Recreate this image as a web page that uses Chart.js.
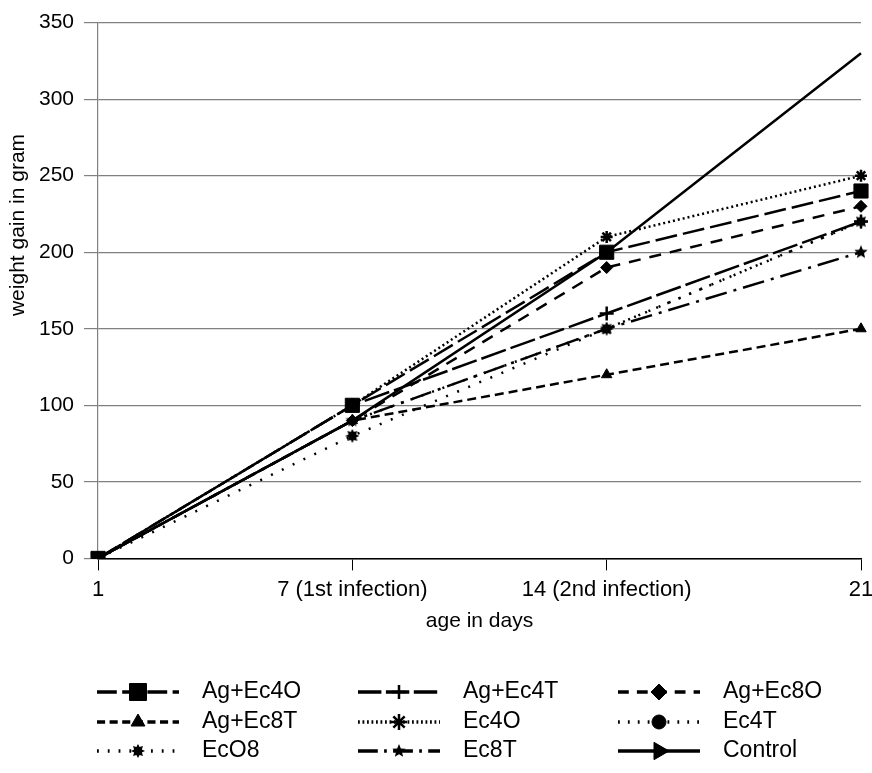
<!DOCTYPE html>
<html>
<head>
<meta charset="utf-8">
<script src="https://cdn.jsdelivr.net/npm/chart.js@4.4.1/dist/chart.umd.min.js"></script>
<style>
  body { margin: 0; background: #fff; }
  #wrap { width: 872px; height: 773px; position: relative; }
</style>
</head>
<body>
<div id="wrap"><canvas id="weightChart"></canvas></div>
<script>
// categories and series values
const days = ['1', '7 (1st infection)', '14 (2nd infection)', '21'];
const yTicks = [0, 50, 100, 150, 200, 250, 300, 350];

const agEc4O = [0, 100, 200, 240];
const agEc4T = [0, 100, 160, 220];
const agEc8O = [0, 90, 190, 230];
const agEc8T = [0, 90, 120, 150];
const ec4O = [0, 100, 210, 250];
const ec4T = [0, 90, 150, 220];
const ecO8 = [0, 80, 150, 220];
const ec8T = [0, 90, 150, 200];
const control = [0, 90, 200, 330];

const FONT = '"Liberation Sans", Arial, sans-serif';

// small canvases for the marker shapes Chart.js does not have
function makeMarker(kind, size) {
    const c = document.createElement('canvas');
    c.width = size; c.height = size;
    const g = c.getContext('2d');
    const cx = size / 2, cy = size / 2;
    g.fillStyle = '#000';
    g.beginPath();
    const spikes = kind === 'star5' ? 5 : 8;
    const outer = size / 2;
    const inner = kind === 'star5' ? outer * 0.45 : outer * 0.6;
    for (let i = 0; i < spikes * 2; i++) {
        const r = i % 2 === 0 ? outer : inner;
        const a = -Math.PI / 2 + i * Math.PI / spikes;
        const px = cx + r * Math.cos(a), py = cy + r * Math.sin(a);
        if (i === 0) g.moveTo(px, py); else g.lineTo(px, py);
    }
    g.closePath();
    g.fill();
    return c;
}
const star5 = makeMarker('star5', 14);
const burst = makeMarker('burst', 14);

// plotRadius 0 = the marker only shows in the legend (hidden in the plot, as in the picture)
const seriesDefs = [
    { label: 'Ag+Ec4O', data: agEc4O, dash: [22, 6], style: 'rect', radius: 12, plotRadius: 10 },
    { label: 'Ag+Ec4T', data: agEc4T, dash: [26, 5], style: 'cross', radius: 7, plotRadius: 7 },
    { label: 'Ag+Ec8O', data: agEc8O, dash: [12, 9], style: 'rectRot', radius: 8, plotRadius: 6 },
    { label: 'Ag+Ec8T', data: agEc8T, dash: [9, 5], style: 'triangle', radius: 8, plotRadius: 6 },
    { label: 'Ec4O', data: ec4O, dash: [2, 3], style: 'star', radius: 8, plotRadius: 6 },
    { label: 'Ec4T', data: ec4T, dash: [2, 9], style: 'circle', radius: 7, plotRadius: 0 },
    { label: 'EcO8', data: ecO8, dash: [2, 10], style: burst, radius: 7, plotRadius: 7 },
    { label: 'Ec8T', data: ec8T, dash: [22, 7, 3, 7], style: star5, radius: 7, plotRadius: 7 },
    { label: 'Control', data: control, dash: [], style: 'triangle', radius: 10, plotRadius: 0, rotation: 90 }
];

const datasets = seriesDefs.map(s => ({
    label: s.label,
    data: s.data,
    borderColor: '#000',
    backgroundColor: '#000',
    borderWidth: 2.5,
    borderDash: s.dash,
    pointStyle: s.style,
    pointRadius: s.plotRadius,
    pointRotation: s.rotation || 0,
    pointBorderWidth: s.style === 'cross' || s.style === 'star' ? 2.5 : 1,
    pointBackgroundColor: '#000',
    pointBorderColor: '#000',
    legendRadius: s.radius,
    tension: 0,
    fill: false
}));

// legend drawn as a 3 x 3 grid under the plot, plus the y title placed like the picture
const gridLegend = {
    id: 'gridLegend',
    afterDraw(chart) {
        const ctx = chart.ctx;
        const colX = [97, 358, 618];
        const rowY = [692, 722, 751];
        ctx.save();
        chart.data.datasets.forEach((ds, i) => {
            const x = colX[i % 3], y = rowY[Math.floor(i / 3)];
            ctx.strokeStyle = '#000';
            ctx.fillStyle = '#000';
            ctx.lineWidth = 3.5;
            ctx.setLineDash(ds.borderDash.length ? ds.borderDash.map(v => v * 0.9) : []);
            ctx.beginPath();
            ctx.moveTo(x, y);
            ctx.lineTo(x + 82, y);
            ctx.stroke();
            ctx.setLineDash([]);
            ctx.lineWidth = ds.pointBorderWidth;
            Chart.helpers.drawPoint(ctx, {
                pointStyle: ds.pointStyle,
                radius: ds.legendRadius,
                rotation: ds.pointRotation,
                borderWidth: ds.pointBorderWidth
            }, x + 41, y);
            ctx.font = '23px ' + FONT;
            ctx.textBaseline = 'middle';
            ctx.textAlign = 'left';
            ctx.fillText(ds.label, x + 105, y);
        });

        ctx.translate(18, 225);
        ctx.rotate(-Math.PI / 2);
        ctx.font = '21px ' + FONT;
        ctx.textAlign = 'center';
        ctx.textBaseline = 'middle';
        ctx.fillText('weight gain in gram', 0, 0);
        ctx.restore();
    }
};

const ctx = document.getElementById('weightChart').getContext('2d');
const weightChart = new Chart(ctx, {
    type: 'line',
    data: { labels: days, datasets: datasets },
    options: {
        responsive: true,
        maintainAspectRatio: false,
        animation: false,
        devicePixelRatio: 1,
        layout: { padding: { top: 15, right: 10, bottom: 139, left: 29 } },
        plugins: {
            legend: { display: false },
            tooltip: { enabled: false }
        },
        scales: {
            x: {
                offset: false,
                afterFit: scale => { scale.paddingRight = 0; },
                grid: {
                    drawOnChartArea: false,
                    tickLength: 12,
                    color: '#000'
                },
                border: { color: '#000', width: 1.5 },
                ticks: {
                    color: '#000',
                    maxRotation: 0,
                    autoSkip: false,
                    padding: 6,
                    font: { family: FONT, size: 22 }
                },
                title: {
                    display: true,
                    text: 'age in days',
                    color: '#000',
                    padding: { top: 0, bottom: 0 },
                    font: { family: FONT, size: 21 }
                }
            },
            y: {
                min: 0,
                max: 350,
                afterBuildTicks: axis => { axis.ticks = yTicks.map(v => ({ value: v })); },
                grid: {
                    color: '#808080',
                    tickLength: 14,
                    lineWidth: 1.2
                },
                border: { color: '#808080', width: 1.2 },
                ticks: {
                    color: '#000',
                    padding: 10,
                    font: { family: FONT, size: 21 }
                }
            }
        }
    },
    plugins: [gridLegend]
});
</script>
</body>
</html>
